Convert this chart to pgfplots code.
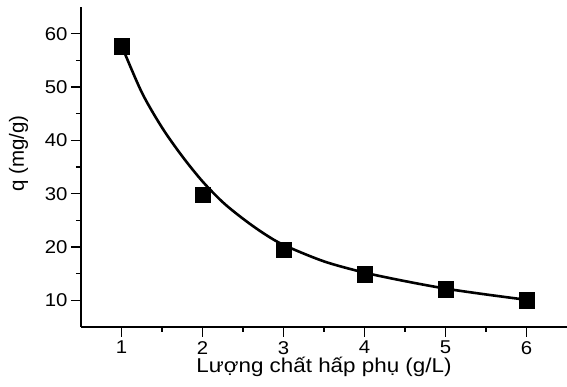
\documentclass[border=0pt]{standalone}
\usepackage{pgfplots}
\pgfplotsset{compat=1.18}
\usepackage{fontspec}
\setmainfont{Liberation Sans}
\newfontfamily\tickfont[FakeStretch=1.1]{Liberation Sans}
\newfontfamily\xlfont[FakeStretch=1.12]{Liberation Sans}

\begin{document}
\begin{tikzpicture}
\begin{axis}[name=ax, scale only axis, width=486pt, height=320pt,
  xmin=0.5, xmax=6.5, ymin=5, ymax=65,
  axis lines=left, axis line style={-, line width=1.8pt},
  xtick={1,...,6}, ytick={10,20,...,60},
  minor x tick num=1, minor y tick num=1,
  tick align=outside, major tick length=10pt, minor tick length=5pt,
  tick style={line width=1.4pt, black},
  /pgf/number format/assume math mode=true,
  tick label style={font=\tickfont\fontsize{18.5}{20}\selectfont},
  xticklabel style={inner sep=2pt, yshift=-2pt},
  xlabel={Lượng chất hấp phụ (g/L)}, ylabel={q (mg/g)},
  x label style={at={(axis description cs:0.5,-0.142)}, anchor=base, font=\xlfont\fontsize{20}{24}\selectfont},
  y label style={at={(axis description cs:-0.1173,0.542)}, anchor=base, font=\fontsize{20.5}{24}\selectfont},
]
\addplot[smooth, line width=2.6pt, black, no marks] coordinates {
(1.0,57.8) (1.25,49.0) (1.5,42.4) (1.75,37.0) (2.0,32.3) (2.25,28.4)
(2.5,25.3) (2.75,22.6) (3.0,20.4) (3.5,17.3) (4.0,15.2) (4.5,13.6)
(5.0,12.2) (5.5,11.1) (6.0,10.1)};
\addplot[only marks, mark=square*, mark size=7.8pt, black] coordinates {
(1,57.7) (2,29.8) (3,19.5) (4,14.9) (5,12.1) (6,10.0)};
\end{axis}
\pgfresetboundingbox
\useasboundingbox ([shift={(-81pt,-60pt)}]ax.south west) rectangle ([shift={(0pt,7pt)}]ax.north east);
\end{tikzpicture}
\end{document}
